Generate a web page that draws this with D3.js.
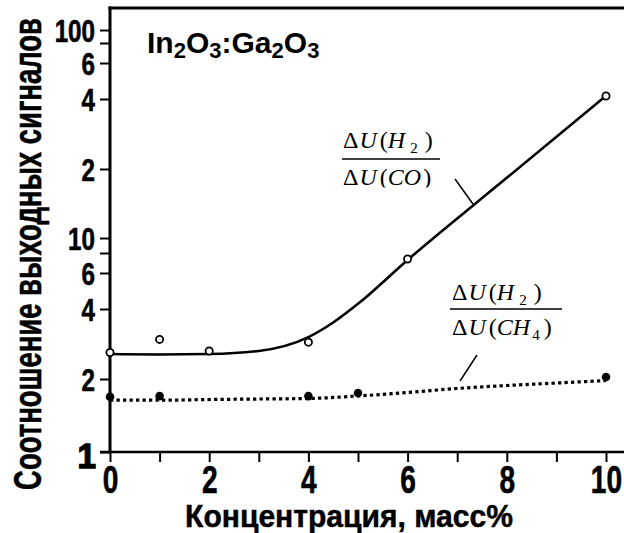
<!DOCTYPE html>
<html><head><meta charset="utf-8">
<script src="https://cdn.jsdelivr.net/npm/d3@7"></script>
<style>
html,body{margin:0;padding:0;background:#fff;}
svg{display:block;}
.narrow{font-family:"Liberation Sans Narrow","Arial Narrow","Liberation Sans",Arial,sans-serif;font-weight:bold;}
.serif{font-family:"Liberation Serif","Times New Roman",serif;}
</style>
</head><body>
<svg id="chart" width="624" height="533"></svg>
<script>
// ---- data ----
const xTicks = [0,1,2,3,4,5,6,7,8,9,10];
const xTickLabels = ["0","","2","","4","","6","","8","","10"];
const yTicks = [1,2,4,6,8,10,20,40,60,80,100];
const yTickLabels = ["1","2","4","6","","10","2","4","6","","100"];

const openX = [0,1,2,4,6,10];
const openY = [2.60,2.96,2.64,2.88,7.34,41.4];
const filledX = [0,1,4,5,10];
const filledY = [1.69,1.70,1.70,1.75,2.04];

const fitCoX = [0,1,2,3,4,4.5,5,6,8,10];
const fitCoY = [2.56,2.55,2.56,2.64,3.03,3.50,4.24,7.24,18.3,41.4];
const fitCh4X = [0,1,2,3,4,5,6,7,8,9,10];
const fitCh4Y = [1.638,1.635,1.646,1.654,1.662,1.702,1.759,1.828,1.880,1.925,1.971];

const title = [["In",0],["2",1],["O",0],["3",1],[":Ga",0],["2",1],["O",0],["3",1]];
const xTitle = "Концентрация, масс%";
const yTitle = "Соотношение выходных сигналов";

// ---- layout ----
const svg = d3.select("#chart");
const X0 = 110, X1 = 606, Y0 = 452, TOP = 8, RIGHT = 624;
const x = d3.scaleLinear().domain([0,10]).range([X0,X1]);
// axis as drawn in the original: log-type, with its own tick spacing
const y = d3.scaleLog().domain(yTicks).range([452,379,309,273,253,238,169,99,63,43,30]);

// frame
svg.append("line").attr("x1",X0).attr("y1",Y0+1).attr("x2",X0).attr("y2",TOP-1.5)
  .attr("stroke","#000").attr("stroke-width",3);
svg.append("line").attr("x1",X0-1.5).attr("y1",TOP).attr("x2",RIGHT).attr("y2",TOP)
  .attr("stroke","#000").attr("stroke-width",3);
svg.append("line").attr("x1",X0-10).attr("y1",Y0).attr("x2",RIGHT).attr("y2",Y0)
  .attr("stroke","#000").attr("stroke-width",2.5);

// x axis
const gx = svg.append("g").attr("transform",`translate(0,${Y0})`)
  .call(d3.axisBottom(x).tickValues(xTicks).tickSize(10).tickSizeOuter(0)
    .tickFormat((d,i)=>xTickLabels[i]));
gx.select(".domain").remove();
gx.selectAll(".tick line").attr("stroke","#000").attr("stroke-width",2);
gx.selectAll(".tick text").attr("class","narrow").attr("font-size",38)
  .attr("fill","#000").attr("x",0).attr("y",0).attr("dy",0)
  .attr("stroke","#000").attr("stroke-width",0.6)
  .attr("transform","translate(0,41) scale(0.74,1)");

// y axis
const gy = svg.append("g").attr("transform",`translate(${X0},0)`)
  .call(d3.axisLeft(y).tickValues(yTicks).tickSize(10).tickSizeOuter(0)
    .tickFormat((d,i)=>yTickLabels[i]));
gy.select(".domain").remove();
gy.selectAll(".tick line").attr("stroke","#000").attr("stroke-width",2);
gy.selectAll(".tick text").attr("class","narrow").attr("font-size",31)
  .attr("fill","#000").attr("x",0).attr("y",0).attr("dy",0)
  .attr("stroke","#000").attr("stroke-width",0.6)
  .attr("transform","translate(-15,11) scale(0.78,1)");
gy.selectAll(".tick text").filter(d=>d===1)
  .attr("font-size",35).attr("stroke-width",1.4)
  .attr("transform","translate(-14,15) scale(0.95,1)");

// fit curves
const line = d3.line().x(d=>x(d[0])).y(d=>y(d[1])).curve(d3.curveMonotoneX);
svg.append("path").datum(fitCoX.map((v,i)=>[v,fitCoY[i]]))
  .attr("d",line).attr("fill","none").attr("stroke","#000").attr("stroke-width",2.6);
svg.append("path").datum(fitCh4X.map((v,i)=>[v,fitCh4Y[i]]))
  .attr("d",line).attr("fill","none").attr("stroke","#000").attr("stroke-width",3.2)
  .attr("stroke-dasharray","3.3,3.2");

// points
svg.append("g").selectAll("circle").data(openX.map((v,i)=>[v,openY[i]])).join("circle")
  .attr("cx",d=>x(d[0])).attr("cy",d=>y(d[1])).attr("r",3.6)
  .attr("fill","#fff").attr("stroke","#000").attr("stroke-width",1.8);
svg.append("g").selectAll("circle").data(filledX.map((v,i)=>[v,filledY[i]])).join("circle")
  .attr("cx",d=>x(d[0])).attr("cy",d=>y(d[1])).attr("r",4.3).attr("fill","#000");

// title
const t = svg.append("text").attr("x",147).attr("y",53)
  .attr("font-family","Liberation Sans, Arial, sans-serif").attr("font-weight","bold")
  .attr("font-size",30).attr("fill","#000");
title.forEach(([s,sub])=>{
  t.append("tspan").text(s).attr("font-size",sub?22:30)
   .attr("baseline-shift",sub?"-5":null);
});

// axis titles (condensed horizontally to the original's extent)
function condensed(txt, size, cx, cy, rot, target, sw){
  const g = svg.append("g").attr("transform",`translate(${cx},${cy}) rotate(${rot})`);
  const el = g.append("text").attr("class","narrow").attr("font-size",size)
    .attr("fill","#000").attr("stroke","#000").attr("stroke-width",sw)
    .attr("text-anchor","middle").text(txt);
  const len = el.node().getComputedTextLength();
  el.attr("transform",`scale(${target/len},1)`);
}
condensed(xTitle, 32, 349, 527, 0, 328, 0.5);
condensed(yTitle, 39, 41, 254, -90, 472, 0.6);

// fraction labels
function frac(x0, yNum, yLine, lineX1, lineX2, num, den, clipBottom){
  const g = svg.append("g").attr("class","serif").attr("fill","#000");
  const mk = (yy, parts) => {
    const tx = g.append("text").attr("x",x0).attr("y",yy).attr("font-size",24);
    parts.forEach(p=>{
      const ts = tx.append("tspan").text(p.t);
      if(p.i) ts.attr("font-style","italic");
      if(p.dx) ts.attr("dx",p.dx);
      if(p.sub) ts.attr("font-size",15).attr("baseline-shift","-5");
    });
    return tx;
  };
  mk(yNum, num);
  g.append("line").attr("x1",lineX1).attr("x2",lineX2).attr("y1",yLine).attr("y2",yLine)
    .attr("stroke","#000").attr("stroke-width",1.4);
  const d = mk(yLine+26, den);
  if(clipBottom){
    const id = "clip"+Math.round(x0);
    svg.append("clipPath").attr("id",id).append("rect")
      .attr("x",x0-5).attr("y",yLine+2).attr("width",120).attr("height",clipBottom);
    d.attr("clip-path",`url(#${id})`);
  }
}
const numParts = [{t:"Δ"},{t:"U",i:1,dx:1},{t:"(",dx:3},{t:"H",i:1},{t:"2",sub:1,dx:5},{t:")",dx:7}];
frac(343,148,159,342,440,numParts,
  [{t:"Δ"},{t:"U",i:1,dx:1},{t:"(",dx:3},{t:"CO",i:1},{t:")",dx:2}], 26.5);
frac(452,300,309,450,562,numParts,
  [{t:"Δ"},{t:"U",i:1,dx:1},{t:"(",dx:3},{t:"CH",i:1},{t:"4",sub:1,dx:2},{t:")",dx:4}], 0);

// leader lines
svg.append("line").attr("x1",455).attr("y1",179).attr("x2",473).attr("y2",204)
  .attr("stroke","#000").attr("stroke-width",1.5);
svg.append("line").attr("x1",477).attr("y1",355).attr("x2",460).attr("y2",381)
  .attr("stroke","#000").attr("stroke-width",1.5);
</script>
</body></html>
